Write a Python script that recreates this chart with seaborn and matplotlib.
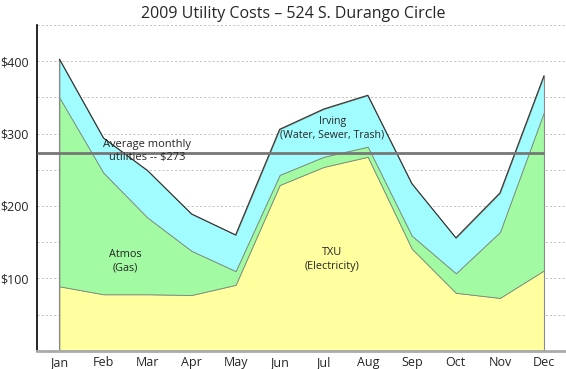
import numpy as np
import seaborn as sns
import matplotlib.pyplot as plt

# monthly costs (dollars)
months = ['Jan', 'Feb', 'Mar', 'Apr', 'May', 'Jun', 'Jul', 'Aug', 'Sep', 'Oct', 'Nov', 'Dec']
txu = [89, 78, 78, 77, 91, 229, 254, 268, 141, 80, 73, 111]
atmos = [261, 168, 106, 61, 19, 14, 14, 14, 18, 27, 91, 219]
irving = [53, 48, 65, 51, 50, 63, 66, 71, 72, 49, 54, 50]
yticks = [100, 200, 300, 400]
ytick_labels = ['$100', '$200', '$300', '$400']

sns.set_style('white')
plt.rcParams['font.family'] = ['Open Sans', 'DejaVu Sans']

x = np.arange(len(months))
total = np.array(txu) + np.array(atmos) + np.array(irving)
avg = total.mean()

fig = plt.figure(figsize=(5.66, 3.69), dpi=100)
ax = fig.add_axes([0.066, 0.0496, 0.934, 0.8824])

# dashed grid every $50
for g in range(50, 451, 50):
    ax.axhline(g, color='#b8b8b8', lw=0.6, ls=(0, (2.5, 2.5)), zorder=0)

ax.stackplot(x, txu, atmos, irving,
             colors=['#ffffa0', '#a2fba2', '#a0fcff'],
             edgecolor='#7a8a7a', linewidth=0.6, zorder=1)
sns.lineplot(x=x, y=total, color='#333333', lw=0.8, ax=ax, zorder=3)
ax.vlines([x[0], x[-1]], 0, [total[0], total[-1]], color='#8a8a8a', lw=0.8, zorder=2)

# average line
ax.hlines(avg, -0.5, x[-1], color='#777777', lw=2, zorder=4)
ax.text(2, avg + 3, 'Average monthly\nutilities -- $%d' % round(avg),
        ha='center', va='center', fontsize=8, linespacing=1.25, zorder=5)

ax.text(1.5, 124, 'Atmos\n(Gas)', ha='center', va='center', fontsize=7.8, linespacing=1.3)
ax.text(6.2, 307, 'Irving\n(Water, Sewer, Trash)', ha='center', va='center', fontsize=7.6, linespacing=1.3)
ax.text(6.2, 126, 'TXU\n(Electricity)', ha='center', va='center', fontsize=7.8, linespacing=1.3)

ax.set_xlim(-0.5, 11.5)
ax.set_ylim(0, 450)
ax.set_xticks(x)
ax.set_xticklabels(months)
ax.set_yticks(yticks)
ax.set_yticklabels(ytick_labels)
ax.tick_params(axis='x', direction='in', length=8, width=1, color='#888888', labelsize=9, pad=4)
ax.tick_params(axis='y', length=0, labelsize=9, pad=6)

sns.despine(ax=ax, top=True, right=True)
ax.spines['left'].set_color('black')
ax.spines['left'].set_linewidth(1.2)
ax.spines['bottom'].set_color('#aaaaaa')
ax.spines['bottom'].set_linewidth(2)

fig.text(0.518, 0.963, '2009 Utility Costs \u2013 524 S. Durango Circle',
         ha='center', va='center', fontsize=11.5)

fig.savefig('out.png', dpi=100)
